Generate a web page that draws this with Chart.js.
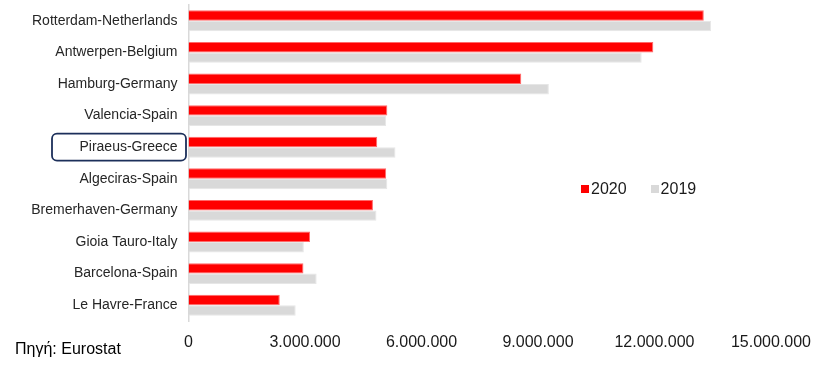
<!DOCTYPE html>
<html>
<head>
<meta charset="utf-8">
<script src="https://cdn.jsdelivr.net/npm/chart.js@4.4.0/dist/chart.umd.min.js"></script>
<style>
    html, body { margin: 0; padding: 0; background: #fff; }
    .wrap { position: relative; width: 823px; height: 369px; font-family: "Liberation Sans", Arial, sans-serif; }
    canvas { position: absolute; left: 0; top: 0; }
    .legend { position: absolute; left: 581px; top: 180px; display: flex; gap: 24px; font-size: 16px; color: #1a1a1a; }
    .legend span.item { display: flex; align-items: center; }
    .legend i { display: inline-block; width: 8px; height: 8px; margin-right: 2px; }
    .source { position: absolute; left: 15px; top: 340px; font-size: 16px; color: #000; }
</style>
</head>
<body>
<div class="wrap">
    <canvas id="ports-chart" width="823" height="369"></canvas>
    <div class="legend" id="legend"></div>
    <div class="source">Πηγή: Eurostat</div>
</div>
<script>
const ports = [
    'Rotterdam-Netherlands',
    'Antwerpen-Belgium',
    'Hamburg-Germany',
    'Valencia-Spain',
    'Piraeus-Greece',
    'Algeciras-Spain',
    'Bremerhaven-Germany',
    'Gioia Tauro-Italy',
    'Barcelona-Spain',
    'Le Havre-France'
];
const values2020 = [13270000, 11970000, 8570000, 5120000, 4860000, 5090000, 4750000, 3130000, 2960000, 2350000];
const values2019 = [13460000, 11670000, 9280000, 5090000, 5330000, 5120000, 4840000, 2970000, 3300000, 2760000];
const seriesLabels = ['2020', '2019'];
const xTicks = [0, 3000000, 6000000, 9000000, 12000000, 15000000];

const highlightPort = 'Piraeus-Greece';

function formatDots(v) {
    return String(v).replace(/\B(?=(\d{3})+(?!\d))/g, '.');
}

// rounded frame around the Piraeus label
const highlightBox = {
    id: 'highlightBox',
    afterDraw(chart) {
        const yScale = chart.scales.y;
        const idx = ports.indexOf(highlightPort);
        const cy = yScale.getPixelForValue(idx);
        const ctx = chart.ctx;
        ctx.save();
        ctx.strokeStyle = '#1c2f5a';
        ctx.lineWidth = 1.8;
        ctx.beginPath();
        ctx.roundRect(52, cy - 13.5, 134, 27, 5);
        ctx.stroke();
        ctx.restore();
    }
};

const chart = new Chart(document.getElementById('ports-chart'), {
    type: 'bar',
    data: {
        labels: ports,
        datasets: [{
            label: seriesLabels[0],
            data: values2020,
            backgroundColor: '#ff0000',
            borderColor: '#ff6a6a',
            borderWidth: 1,
            categoryPercentage: 0.66,
            barPercentage: 1.0
        }, {
            label: seriesLabels[1],
            data: values2019,
            backgroundColor: '#d9d9d9',
            borderColor: '#e6e6e6',
            borderWidth: 1,
            categoryPercentage: 0.66,
            barPercentage: 1.0
        }]
    },
    options: {
        indexAxis: 'y',
        responsive: false,
        animation: false,
        layout: { padding: { top: 5, right: 49, left: 0, bottom: 0 } },
        plugins: {
            legend: { display: false },
            tooltip: { enabled: false }
        },
        scales: {
            x: {
                min: 0,
                max: 15000000,
                afterBuildTicks(scale) {
                    scale.ticks = xTicks.map(v => ({ value: v }));
                },
                afterFit(scale) { scale.height = 48; },
                grid: { display: false, drawTicks: false },
                border: { display: false },
                ticks: {
                    padding: 12,
                    color: '#1a1a1a',
                    font: { family: '"Liberation Sans", Arial, sans-serif', size: 16 },
                    callback: v => formatDots(v)
                }
            },
            y: {
                afterFit(scale) {
                    scale.width = 188.5;
                    scale.paddingTop = 0;
                    scale.paddingBottom = 0;
                },
                grid: { display: false, drawTicks: false },
                border: { display: true, color: '#d9d9d9', width: 1.5 },
                ticks: {
                    padding: 11,
                    color: '#262626',
                    font: { family: '"Liberation Sans", Arial, sans-serif', size: 14 }
                }
            }
        }
    },
    plugins: [highlightBox]
});

document.getElementById('legend').innerHTML = chart.data.datasets.map(ds => `
    <span class="item"><i style="background:${ds.backgroundColor}"></i>${ds.label}</span>
`).join('');
</script>
</body>
</html>
